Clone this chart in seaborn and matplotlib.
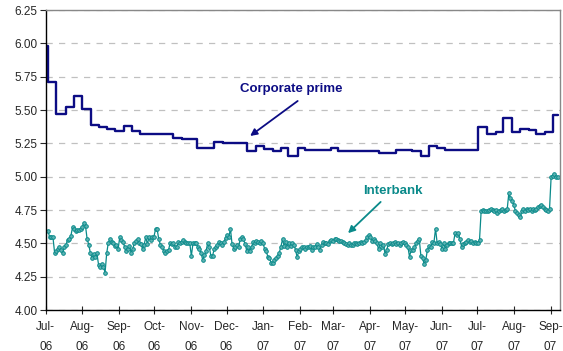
import matplotlib
matplotlib.use("Agg")
import matplotlib.pyplot as plt
import matplotlib.dates as mdates
import seaborn as sns
import pandas as pd

# corporate prime rate: dates where the rate changes, and the new rate
prime_dates = ["2006-07-01", "2006-07-03", "2006-07-10", "2006-07-18", "2006-07-25",
               "2006-08-01", "2006-08-08", "2006-08-15", "2006-08-22", "2006-08-29",
               "2006-09-05", "2006-09-12", "2006-09-19", "2006-10-17", "2006-10-24",
               "2006-11-06", "2006-11-14", "2006-11-20", "2006-11-28", "2006-12-18",
               "2006-12-26", "2007-01-02", "2007-01-09", "2007-01-16", "2007-01-22",
               "2007-01-30", "2007-02-05", "2007-02-27", "2007-03-05", "2007-04-09",
               "2007-04-23", "2007-05-07", "2007-05-14", "2007-05-21", "2007-05-28",
               "2007-06-04", "2007-07-02", "2007-07-09", "2007-07-17", "2007-07-23",
               "2007-07-30", "2007-08-06", "2007-08-14", "2007-08-20", "2007-08-27",
               "2007-09-03", "2007-09-07"]
prime_rates = [5.98, 5.71, 5.47, 5.525, 5.605,
               5.51, 5.39, 5.375, 5.36, 5.343,
               5.38, 5.343, 5.32, 5.29, 5.283,
               5.218, 5.213, 5.258, 5.25, 5.193,
               5.232, 5.205, 5.195, 5.213, 5.158,
               5.213, 5.20, 5.213, 5.193, 5.18,
               5.20, 5.19, 5.158, 5.232, 5.213,
               5.20, 5.375, 5.32, 5.333, 5.438,
               5.338, 5.358, 5.35, 5.323, 5.333,
               5.463, 5.463]

# interbank rate, business days from 3 Jul 2006 to 7 Sep 2007
interbank_start = "2006-07-03"
interbank_end = "2007-09-07"
interbank_rates = [
    4.59, 4.545, 4.545, 4.545, 4.43, 4.44, 4.455, 4.47, 4.45, 4.425,
    4.475, 4.49, 4.525, 4.53, 4.555, 4.62, 4.61, 4.59, 4.60, 4.60,
    4.605, 4.62, 4.655, 4.63, 4.53, 4.49, 4.425, 4.39, 4.42, 4.40,
    4.425, 4.34, 4.325, 4.345, 4.325, 4.28, 4.425, 4.505, 4.53, 4.51,
    4.505, 4.48, 4.49, 4.455, 4.545, 4.525, 4.51, 4.475, 4.445, 4.455,
    4.48, 4.43, 4.46, 4.50, 4.52, 4.53, 4.50, 4.495, 4.46, 4.49,
    4.545, 4.495, 4.545, 4.525, 4.545, 4.55, 4.605, 4.605, 4.53, 4.49,
    4.475, 4.445, 4.425, 4.44, 4.45, 4.505, 4.495, 4.505, 4.475, 4.475,
    4.51, 4.505, 4.51, 4.525, 4.51, 4.505, 4.505, 4.505, 4.405, 4.50,
    4.505, 4.50, 4.47, 4.455, 4.425, 4.375, 4.41, 4.44, 4.50, 4.475,
    4.405, 4.405,
    4.455, 4.47, 4.49, 4.51, 4.50, 4.49, 4.51, 4.54, 4.56, 4.545,
    4.61, 4.495, 4.46, 4.47, 4.49, 4.475, 4.53, 4.55, 4.53, 4.495,
    4.445, 4.475, 4.44, 4.475, 4.51, 4.505, 4.52, 4.51, 4.505, 4.52,
    4.50, 4.46, 4.44, 4.40, 4.39, 4.355, 4.35, 4.375, 4.39, 4.405,
    4.43, 4.475, 4.53, 4.48, 4.51, 4.475, 4.505, 4.48, 4.505, 4.49,
    4.45, 4.395, 4.445, 4.455, 4.47, 4.475, 4.46, 4.47, 4.475, 4.48,
    4.45, 4.475, 4.475, 4.495, 4.47, 4.45, 4.49, 4.51, 4.505, 4.50,
    4.495, 4.52, 4.525, 4.52, 4.53, 4.53, 4.525, 4.52, 4.52, 4.51,
    4.505, 4.495, 4.49, 4.50, 4.49, 4.49, 4.50, 4.505, 4.495, 4.50,
    4.51, 4.505, 4.51, 4.525, 4.545, 4.56, 4.545, 4.52, 4.53, 4.52,
    4.50, 4.455,
    4.50, 4.475, 4.49, 4.42, 4.45, 4.495, 4.505, 4.495, 4.50, 4.51,
    4.495, 4.50, 4.49, 4.505, 4.51, 4.50, 4.49, 4.475, 4.40, 4.45,
    4.45, 4.47, 4.50, 4.52, 4.53, 4.405, 4.39, 4.345, 4.375, 4.45,
    4.48, 4.475, 4.51, 4.505, 4.61, 4.50, 4.51, 4.495, 4.455, 4.50,
    4.46, 4.49, 4.50, 4.505, 4.505, 4.505, 4.575, 4.56, 4.575, 4.53,
    4.475, 4.495, 4.505, 4.51, 4.525, 4.51, 4.52, 4.505, 4.51, 4.505,
    4.50, 4.525, 4.74, 4.75, 4.74, 4.745, 4.74, 4.75, 4.755, 4.75,
    4.745, 4.75, 4.73, 4.745, 4.75, 4.755, 4.745, 4.75, 4.755, 4.875,
    4.84, 4.82, 4.79, 4.745, 4.725, 4.71, 4.70, 4.74, 4.755, 4.74,
    4.755, 4.75, 4.76, 4.745, 4.755, 4.75, 4.76, 4.77, 4.78, 4.79,
    4.77, 4.76, 4.75, 4.745, 4.755, 5.00, 5.005, 5.02, 5.00, 4.995,
]

y_ticks = [4.00, 4.25, 4.50, 4.75, 5.00, 5.25, 5.50, 5.75, 6.00, 6.25]

navy = "#0c0c84"
teal = "#0a8a8a"

prime = pd.DataFrame({"date": pd.to_datetime(prime_dates), "rate": prime_rates})
interbank = pd.DataFrame({
    "date": pd.date_range(interbank_start, interbank_end, periods=len(interbank_rates)),
    "rate": interbank_rates,
})

sns.set_style("white")
plt.rcParams["font.family"] = ["Liberation Sans", "DejaVu Sans"]

fig = plt.figure(figsize=(5.63, 3.51), dpi=100)
ax = fig.add_axes([0.0812, 0.1168, 0.9135, 0.8547])

sns.lineplot(data=prime, x="date", y="rate", ax=ax, color=navy, linewidth=1.7,
             drawstyle="steps-post")
sns.lineplot(data=interbank, x="date", y="rate", ax=ax, color=teal, linewidth=0.9,
             marker="o", markersize=2.6, markerfacecolor="#5fb4b4",
             markeredgecolor=teal, markeredgewidth=0.7)

ax.set_xlim(pd.Timestamp("2006-07-01"), pd.Timestamp("2007-09-09"))
ax.set_ylim(4.0, 6.25)
ax.set_yticks(y_ticks)
ax.yaxis.set_major_formatter(plt.FormatStrFormatter("%.2f"))
ax.xaxis.set_major_locator(mdates.MonthLocator())
ax.xaxis.set_major_formatter(mdates.DateFormatter("%b-\n%y"))
ax.set_xlabel("")
ax.set_ylabel("")

ax.grid(axis="y", color="#c0c0c0", linestyle=(0, (5, 5)), linewidth=0.9)
ax.grid(axis="x", visible=False)

for side in ["top", "right"]:
    ax.spines[side].set_color("#888888")
    ax.spines[side].set_linewidth(1.0)
for side in ["left", "bottom"]:
    ax.spines[side].set_color("black")
    ax.spines[side].set_linewidth(1.0)

ax.tick_params(axis="y", direction="out", length=4, width=0.8, labelsize=8.5,
               left=True, pad=2)
ax.tick_params(axis="x", direction="inout", length=6, width=0.8, labelsize=8.5,
               bottom=True, pad=5)
for lab in ax.get_xticklabels():
    lab.set_linespacing(1.85)

ax.text(pd.Timestamp("2007-01-25"), 5.66, "Corporate prime", color=navy,
        fontsize=9.5, fontweight="bold", ha="center", va="center")
ax.annotate("", xy=(pd.Timestamp("2006-12-19"), 5.293),
            xytext=(pd.Timestamp("2007-02-01"), 5.58),
            arrowprops=dict(arrowstyle="-|>", color=navy, lw=1.3, mutation_scale=10))

ax.text(pd.Timestamp("2007-04-21"), 4.895, "Interbank", color=teal,
        fontsize=9.5, fontweight="bold", ha="center", va="center")
ax.annotate("", xy=(pd.Timestamp("2007-03-12"), 4.562),
            xytext=(pd.Timestamp("2007-04-12"), 4.825),
            arrowprops=dict(arrowstyle="-|>", color=teal, lw=1.3, mutation_scale=10))

fig.savefig("out.png", dpi=100)
